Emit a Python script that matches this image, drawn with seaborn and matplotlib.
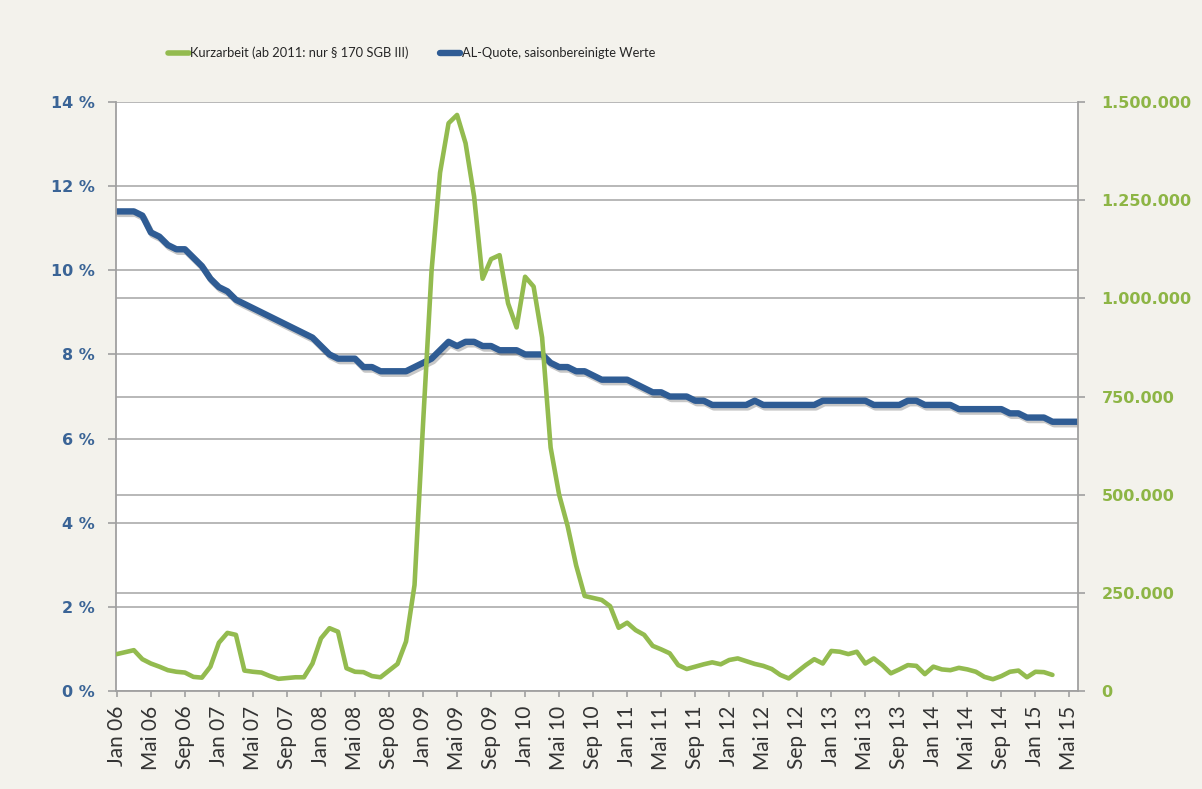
import numpy as np
import matplotlib
matplotlib.use("Agg")
import matplotlib.pyplot as plt
import matplotlib.patheffects as pe
from matplotlib.lines import Line2D
import seaborn as sns

# ---------------- data ----------------
al_quote = [
    11.4, 11.4, 11.4, 11.3, 10.9, 10.8, 10.6, 10.5, 10.5, 10.3, 10.1, 9.8,   # 2006
    9.6, 9.5, 9.3, 9.2, 9.1, 9.0, 8.9, 8.8, 8.7, 8.6, 8.5, 8.4,              # 2007
    8.2, 8.0, 7.9, 7.9, 7.9, 7.7, 7.7, 7.6, 7.6, 7.6, 7.6, 7.7,              # 2008
    7.8, 7.9, 8.1, 8.3, 8.2, 8.3, 8.3, 8.2, 8.2, 8.1, 8.1, 8.1,              # 2009
    8.0, 8.0, 8.0, 7.8, 7.7, 7.7, 7.6, 7.6, 7.5, 7.4, 7.4, 7.4,              # 2010
    7.4, 7.3, 7.2, 7.1, 7.1, 7.0, 7.0, 7.0, 6.9, 6.9, 6.8, 6.8,              # 2011
    6.8, 6.8, 6.8, 6.9, 6.8, 6.8, 6.8, 6.8, 6.8, 6.8, 6.8, 6.9,              # 2012
    6.9, 6.9, 6.9, 6.9, 6.9, 6.8, 6.8, 6.8, 6.8, 6.9, 6.9, 6.8,              # 2013
    6.8, 6.8, 6.8, 6.7, 6.7, 6.7, 6.7, 6.7, 6.7, 6.6, 6.6, 6.5,              # 2014
    6.5, 6.5, 6.4, 6.4, 6.4, 6.4,                                            # 2015
]

kurzarbeit = [
    94000, 99000, 104000, 81000, 70000, 62000, 53000, 49000, 47000, 36000, 34000, 62000,            # 2006
    123000, 148000, 143000, 52000, 49000, 47000, 38000, 31000, 33000, 35000, 35000, 70000,          # 2007
    134000, 160000, 151000, 58000, 49000, 48000, 38000, 35000, 52000, 69000, 126000, 270000,        # 2008
    680000, 1070000, 1320000, 1446000, 1467000, 1395000, 1260000, 1050000, 1100000, 1110000,
    987000, 926000,                                                                                 # 2009
    1055000, 1030000, 900000, 620000, 500000, 420000, 320000, 242000, 237000, 232000, 216000,
    161000,                                                                                         # 2010
    174000, 155000, 143000, 115000, 106000, 96000, 66000, 56000, 62000, 68000, 73000, 68000,        # 2011
    79000, 83000, 76000, 69000, 64000, 56000, 41000, 32000, 49000, 66000, 81000, 70000,             # 2012
    102000, 100000, 94000, 100000, 70000, 83000, 66000, 45000, 55000, 66000, 64000, 43000,          # 2013
    62000, 55000, 53000, 59000, 55000, 49000, 36000, 30000, 38000, 49000, 52000, 35000,             # 2014
    49000, 48000, 41000,                                                                            # 2015
]

x_tick_labels = [f"{m} {y:02d}" for y in range(6, 16) for m in ["Jan", "Mai", "Sep"]][:29]
left_ticks = [0, 2, 4, 6, 8, 10, 12, 14]
left_tick_labels = [f"{v} %" for v in left_ticks]
right_ticks = [0, 250000, 500000, 750000, 1000000, 1250000, 1500000]
right_tick_labels = [f"{v:,}".replace(",", ".") for v in right_ticks]

label_green = "Kurzarbeit (ab 2011: nur § 170 SGB III)"
label_blue = "AL-Quote, saisonbereinigte Werte"

# ---------------- style ----------------
BG = "#F3F2EC"
BLUE = "#2F5C94"
GREEN = "#93BB4F"
BLUE_TXT = "#3A6496"
GREEN_TXT = "#8DB545"
GRID = "#ABABAB"
SPINE = "#A0A0A0"

sns.set_style("white")
plt.rcParams["font.family"] = ["Lato", "DejaVu Sans"]

fig = plt.figure(figsize=(12.02, 7.89), dpi=100, facecolor=BG)
ax = fig.add_axes([0.0965, 0.1242, 0.8003, 0.7465])
ax.set_facecolor("white")
ax2 = ax.twinx()

months_al = np.arange(len(al_quote))
months_ka = np.arange(len(kurzarbeit))

sns.lineplot(x=months_al, y=al_quote, ax=ax, color=BLUE, linewidth=4.6,
             solid_capstyle="round", solid_joinstyle="round", legend=False)
ax.lines[-1].set_path_effects([
    pe.SimpleLineShadow(offset=(1.2, -1.8), shadow_color="black", alpha=0.22),
    pe.Normal(),
])
sns.lineplot(x=months_ka, y=kurzarbeit, ax=ax2, color=GREEN, linewidth=3.3,
             solid_capstyle="round", solid_joinstyle="round", legend=False)

# axes ranges
ax.set_xlim(-0.1, 113)
ax.set_ylim(0, 14)
ax2.set_ylim(0, 1500000)

# grid: both the % lines and the 250.000 lines (drawn on the lower axes)
ax.set_yticks(left_ticks, labels=left_tick_labels, fontweight="bold",
              fontfamily="DejaVu Sans")
ax.set_yticks([v * 14 / 1500000 for v in right_ticks], minor=True)
ax.grid(axis="y", which="both", color=GRID, linewidth=1.2)
ax.grid(axis="x", visible=False)
ax.set_axisbelow(True)
ax2.grid(False)

ax2.set_yticks(right_ticks, labels=right_tick_labels, fontweight="bold",
               fontfamily="DejaVu Sans")

ax.set_xticks(np.arange(0, 113, 4), labels=x_tick_labels, rotation=90)

ax.tick_params(axis="y", which="major", direction="out", length=6, width=1.2,
               color=SPINE, pad=9, labelcolor=BLUE_TXT, labelsize=11.5, left=True)
ax.tick_params(axis="y", which="minor", length=0)
ax2.tick_params(axis="y", which="major", direction="out", length=5, width=1.2,
                color=SPINE, pad=12, labelcolor=GREEN_TXT, labelsize=11.5, right=True)
ax.tick_params(axis="x", direction="out", length=4.5, width=1.2, color=SPINE,
               pad=6, labelcolor="#333333", labelsize=15, bottom=True)

for a in (ax, ax2):
    a.set_xlabel("")
    a.set_ylabel("")
    for s in a.spines.values():
        s.set_visible(False)
ax.spines["left"].set_visible(True)
ax.spines["bottom"].set_visible(True)
ax2.spines["right"].set_visible(True)
for s in (ax.spines["left"], ax.spines["bottom"], ax2.spines["right"]):
    s.set_color(SPINE)
    s.set_linewidth(1.3)

# legend
handles = [
    Line2D([], [], color=GREEN, lw=4.0, solid_capstyle="round"),
    Line2D([], [], color=BLUE, lw=4.6, solid_capstyle="round"),
]
fig.legend(handles, [label_green, label_blue], loc="center left",
           bbox_to_anchor=(168 / 1202, 1 - 53 / 789), ncol=2, frameon=False,
           borderpad=0, borderaxespad=0, handlelength=1.6, handletextpad=0.12,
           columnspacing=2.4,
           prop={"family": ["Lato", "DejaVu Sans"], "size": 9.3},
           labelcolor="#262626")

fig.savefig("out.png", dpi=100, facecolor=BG)
